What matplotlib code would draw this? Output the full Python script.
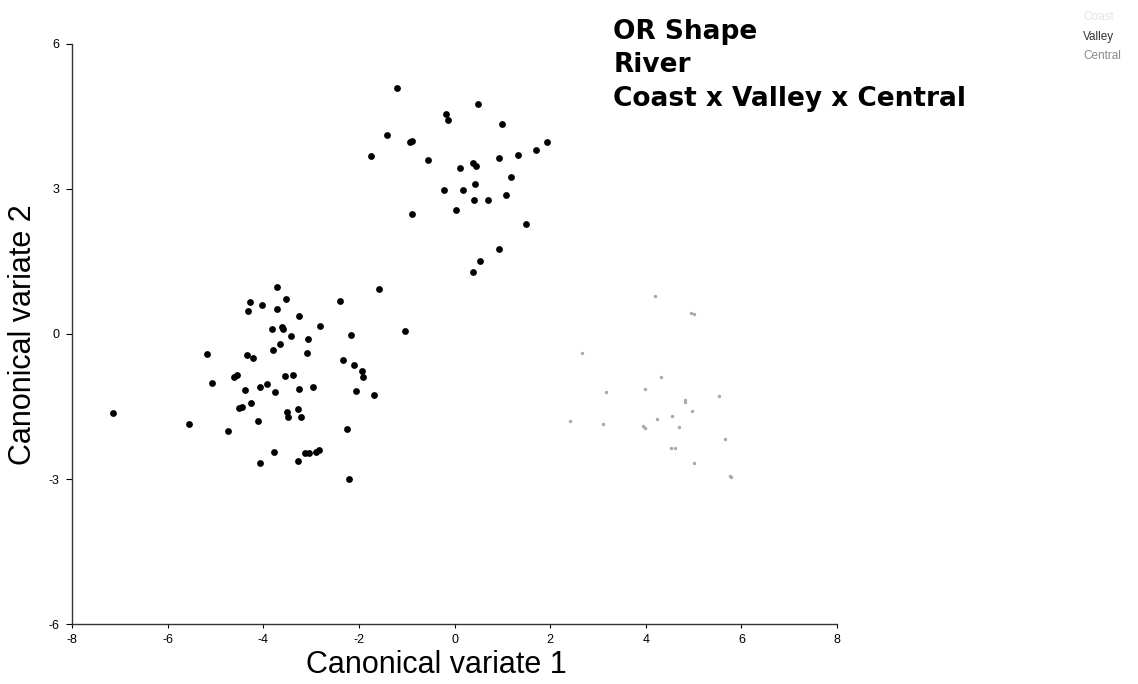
import matplotlib
matplotlib.use("Agg")
import matplotlib.pyplot as plt

plt.rcParams['font.family'] = ['Liberation Sans', 'DejaVu Sans']
plt.rcParams['axes.unicode_minus'] = False

# upper cluster
valley_x = [-1.20, 0.49, -0.18, -0.13, 0.99, -1.42, -0.93, -0.88, 1.93, -1.74,
            1.70, 1.32, 0.92, -0.55, 0.12, 0.38, 0.45, 1.18, 0.43, -0.22,
            0.17, 0.41, 0.69, 1.08, 0.04, -0.88, 1.50, 0.94, 0.54, 0.39]
valley_y = [5.09, 4.76, 4.56, 4.42, 4.34, 4.11, 3.97, 4.00, 3.98, 3.69,
            3.81, 3.71, 3.65, 3.60, 3.43, 3.54, 3.48, 3.24, 3.11, 2.97,
            2.97, 2.77, 2.77, 2.88, 2.56, 2.49, 2.27, 1.76, 1.51, 1.29]

# lower-left cluster
coast_x = [-3.72, -1.58, -4.27, -4.03, -3.53, -4.32, -3.71, -2.39, -3.25, -3.81,
           -3.61, -3.59, -2.81, -3.42, -3.07, -2.16, -1.04, -3.66, -3.79, -3.09,
           -5.17, -4.34, -4.22, -2.33, -2.11, -1.93, -1.91, -4.61, -4.56, -3.54,
           -3.38, -5.08, -4.38, -4.07, -3.92, -3.75, -3.26, -2.97, -2.06, -1.68,
           -4.26, -4.50, -4.45, -7.14, -3.51, -3.49, -3.27, -3.21, -4.11, -5.56,
           -4.74, -2.24, -3.77, -3.12, -3.05, -2.90, -2.83, -4.07, -3.27, -2.21]
coast_y = [0.98, 0.93, 0.67, 0.59, 0.72, 0.48, 0.52, 0.69, 0.37, 0.10,
           0.14, 0.11, 0.16, -0.04, -0.10, -0.02, 0.06, -0.21, -0.33, -0.39,
           -0.41, -0.44, -0.50, -0.54, -0.64, -0.77, -0.88, -0.88, -0.85, -0.87,
           -0.84, -1.01, -1.16, -1.09, -1.04, -1.21, -1.13, -1.09, -1.17, -1.27,
           -1.42, -1.54, -1.51, -1.64, -1.62, -1.71, -1.56, -1.72, -1.80, -1.86,
           -2.01, -1.97, -2.45, -2.46, -2.46, -2.44, -2.41, -2.66, -2.62, -2.99]

# faint cluster on the right
central_x = [4.20, 4.94, 5.00, 2.67, 4.32, 3.98, 3.17, 5.53, 4.83, 4.83,
             4.96, 4.55, 2.42, 3.10, 4.24, 3.95, 3.99, 4.70, 5.65, 4.52,
             4.61, 5.00, 5.76, 5.79]
central_y = [0.79, 0.43, 0.42, -0.39, -0.90, -1.14, -1.20, -1.28, -1.37, -1.41,
             -1.59, -1.69, -1.80, -1.86, -1.75, -1.90, -1.95, -1.93, -2.17, -2.35,
             -2.35, -2.66, -2.93, -2.95]

xticks = [-8, -6, -4, -2, 0, 2, 4, 6, 8]
yticks = [-6, -3, 0, 3, 6]
title_lines = ["OR Shape", "River", "Coast x Valley x Central"]

fig = plt.figure(figsize=(11.38, 6.84), dpi=100)
ax = fig.add_axes([0.0633, 0.0877, 0.6722, 0.848])

ax.scatter(coast_x, coast_y, s=24, c='black', linewidths=0)
ax.scatter(valley_x, valley_y, s=24, c='black', linewidths=0)
ax.scatter(central_x, central_y, s=6, c='#a8a8a8', linewidths=0)

ax.set_xlim(-8, 8)
ax.set_ylim(-6, 6)
ax.set_xticks(xticks)
ax.set_yticks(yticks)
ax.spines['top'].set_visible(False)
ax.spines['right'].set_visible(False)
for s in ['left', 'bottom']:
    ax.spines[s].set_linewidth(1.0)
    ax.spines[s].set_color('#333333')
ax.tick_params(axis='x', direction='out', length=3, pad=4, labelsize=9)
ax.tick_params(axis='y', direction='out', length=4, pad=5, labelsize=9)

ax.set_xlabel("Canonical variate 1", fontsize=22)
ax.set_ylabel("Canonical variate 2", fontsize=22)
ax.xaxis.label.set_va('center')
ax.xaxis.set_label_coords(0.476, -0.071)
ax.yaxis.label.set_va('center')
ax.yaxis.set_label_coords(-0.064, 0.498)

fig.text(0.539, 0.972, "\n".join(title_lines), fontsize=19,
         family=['DejaVu Sans'], fontweight='bold',
         va='top', ha='left', linespacing=1.36)

# faded legend in the corner
fig.text(0.952, 0.975, "Coast", fontsize=8.5, color='#e4e4e4', va='center')
fig.text(0.952, 0.946, "Valley", fontsize=8.5, color='#333333', va='center')
fig.text(0.952, 0.918, "Central", fontsize=8.5, color='#8a8a8a', va='center')

fig.savefig("out.png", dpi=100)
